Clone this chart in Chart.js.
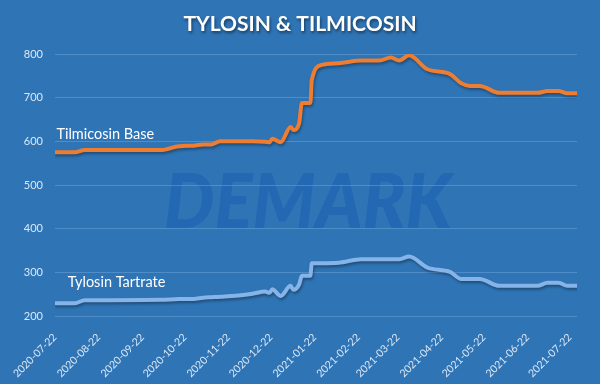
<!DOCTYPE html>
<html><head><meta charset="utf-8">
<script src="https://cdn.jsdelivr.net/npm/chart.js@4.4.0/dist/chart.umd.min.js"></script>
<style>html,body{margin:0;padding:0;background:#2f75b6;overflow:hidden}</style>
</head><body>
<canvas id="c" width="600" height="384"></canvas>
<script>
const chartTitle = 'TYLOSIN & TILMICOSIN';
const seriesNames = ['Tilmicosin Base', 'Tylosin Tartrate'];
const watermarkText = 'DEMARK';
const startDate = '2020-07-22';
const endDate = '2021-07-27';
const dates = ['2020-07-22','2020-08-05','2020-08-12','2020-10-05','2020-10-18','2020-10-28','2020-11-04','2020-11-10','2020-11-16','2020-11-29','2020-12-09','2020-12-18','2020-12-21','2020-12-23','2020-12-29','2021-01-05','2021-01-07','2021-01-11','2021-01-13','2021-01-19','2021-01-20','2021-01-27','2021-02-08','2021-02-24','2021-03-09','2021-03-17','2021-03-23','2021-03-30','2021-04-12','2021-04-28','2021-05-06','2021-05-12','2021-05-19','2021-06-02','2021-06-29','2021-07-06','2021-07-14','2021-07-20','2021-07-27'];
const tilmicosin = [575,575,580,580,589,590,593,593,600,600,600,599,598,606,598,633,626,641,688,688,740,775,779,785,785,792,785,797,765,754,733,727,727,711,711,715,715,710,710];
const tylosin = [229,229,236,237,239,239,242,243,244,247,251,256,253,261,246,269,260,272,292,292,321,321,322,330,330,330,330,336,311,301,285,285,285,269,269,276,276,269,269];
const tickDates = ['2020-07-22','2020-08-22','2020-09-22','2020-10-22','2020-11-22','2020-12-22','2021-01-22','2021-02-22','2021-03-22','2021-04-22','2021-05-22','2021-06-22','2021-07-22'];
const yMin = 200, yMax = 800, yStep = 100;

function dayOf(s) {
  const [y, m, d] = s.split('-').map(Number);
  const [y0, m0, d0] = startDate.split('-').map(Number);
  return Math.round((Date.UTC(y, m - 1, d) - Date.UTC(y0, m0 - 1, d0)) / 86400000);
}
const tickDays = tickDates.map(dayOf);
const tickLabelOf = {};
tickDates.forEach((t, i) => tickLabelOf[tickDays[i]] = t);
const pts = arr => arr.map((v, i) => ({x: dayOf(dates[i]), y: v}));

const BG = '#2f75b6';
const FONT = 'Lato, "Open Sans", sans-serif';

const bgPlugin = {
  id: 'bg',
  beforeDraw(chart) {
    const ctx = chart.ctx;
    ctx.save();
    ctx.fillStyle = BG;
    ctx.fillRect(0, 0, chart.width, chart.height);
    // watermark
    ctx.font = 'italic 900 76px ' + FONT;
    ctx.fillStyle = 'rgba(28,98,178,0.7)';
    ctx.textBaseline = 'alphabetic';
    const w = ctx.measureText(watermarkText).width;
    const target = 288;
    ctx.translate(164, 228);
    ctx.scale(target / w, 1);
    ctx.fillText(watermarkText, 0, 0);
    ctx.restore();
  }
};

const shadowPlugin = {
  id: 'lineShadow',
  beforeDatasetDraw(chart, args) {
    const ctx = chart.ctx;
    ctx.save();
    ctx.shadowColor = 'rgba(0,0,0,0.35)';
    ctx.shadowBlur = 3;
    ctx.shadowOffsetX = 1;
    ctx.shadowOffsetY = 2;
  },
  afterDatasetDraw(chart) {
    chart.ctx.restore();
  }
};

const textPlugin = {
  id: 'texts',
  afterDraw(chart) {
    const ctx = chart.ctx;
    const xs = chart.scales.x, ys = chart.scales.y;
    ctx.save();
    ctx.fillStyle = '#ffffff';
    ctx.textBaseline = 'middle';
    ctx.textAlign = 'left';
    ctx.font = '14.5px ' + FONT;
    ctx.fillText(seriesNames[0], xs.getPixelForValue(1), ys.getPixelForValue(616));
    ctx.fillText(seriesNames[1], xs.getPixelForValue(9), ys.getPixelForValue(277));
    // title with shadow
    ctx.font = 'bold 21px ' + FONT;
    ctx.textAlign = 'center';
    ctx.shadowColor = 'rgba(0,0,0,0.5)';
    ctx.shadowBlur = 3;
    ctx.shadowOffsetX = 1;
    ctx.shadowOffsetY = 2;
    ctx.fillText(chartTitle, 300, 24);
    ctx.restore();
  }
};

new Chart(document.getElementById('c'), {
  type: 'line',
  data: {
    datasets: [
      {label: seriesNames[0], data: pts(tilmicosin), borderColor: '#ee7d31', borderWidth: 4, pointRadius: 0, cubicInterpolationMode: 'monotone', borderJoinStyle: 'round', borderCapStyle: 'round'},
      {label: seriesNames[1], data: pts(tylosin), borderColor: '#86b4e8', borderWidth: 4, pointRadius: 0, cubicInterpolationMode: 'monotone', borderJoinStyle: 'round', borderCapStyle: 'round'}
    ]
  },
  options: {
    responsive: false,
    devicePixelRatio: 1,
    animation: false,
    layout: {padding: {top: 54, right: 23, left: 0, bottom: 0}},
    plugins: {legend: {display: false}, tooltip: {enabled: false}, title: {display: false}},
    scales: {
      x: {
        type: 'linear',
        min: dayOf(startDate),
        max: dayOf(endDate),
        grid: {display: false},
        border: {display: false},
        afterBuildTicks(scale) { scale.ticks = tickDays.map(v => ({value: v})); },
        afterFit(scale) { scale.height = 68; },
        ticks: {
          autoSkip: false,
          minRotation: 45, maxRotation: 45,
          color: '#dce8f6',
          font: {family: FONT, size: 10.5},
          padding: 7,
          callback: v => tickLabelOf[v] || ''
        }
      },
      y: {
        min: yMin, max: yMax,
        afterFit(scale) { scale.width = 55; },
        grid: {color: 'rgba(120,170,225,0.45)', lineWidth: 1, drawTicks: false},
        border: {display: false},
        ticks: {stepSize: yStep, color: '#dce8f6', font: {family: FONT, size: 11}, padding: 12}
      }
    }
  },
  plugins: [bgPlugin, shadowPlugin, textPlugin]
});
</script>
</body></html>
